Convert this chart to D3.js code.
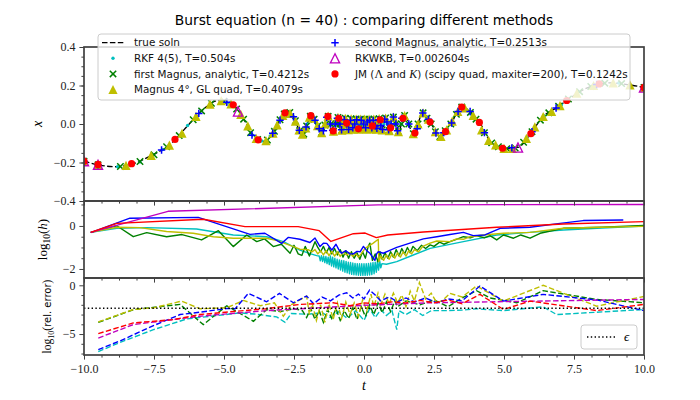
<!DOCTYPE html>
<meta charset="utf-8">
<style>
    body { margin: 0; background: #fff; }
    .tick text { font-family: "Liberation Serif", serif; font-size: 12px; fill: #222; }
    .tick line { stroke: #404040; }
    .leg text { font-family: "DejaVu Sans", sans-serif; font-size: 10.4px; fill: #111; }
</style>

<svg width="700" height="400"></svg>

<script src="https://cdn.jsdelivr.net/npm/d3@7"></script>

<script>
    // true solution: [t, x]
    var trueSoln = [[-10,-0.193],[-9.5,-0.212],[-8.9,-0.222],[-8.25,-0.207],[-7.64,-0.167],[-6.93,-0.107],[-6.21,0.005],
        [-5.62,0.091],[-5.21,0.122],[-4.68,0.1],[-4.25,0.013],[-3.96,-0.064],[-3.6,-0.09],[-3.24,-0.045],[-2.93,0.04],
        [-2.75,0.063],[-2.53,0.04],[-2.29,-0.038],[-2.18,-0.055],[-2.03,0.0],[-1.87,0.045],[-1.69,0.0],[-1.51,-0.045],
        [-1.28,0.041],[-1.09,-0.037],[-0.93,0.034],[-0.79,-0.032],[-0.67,0.03],[-0.56,-0.029],[-0.46,0.027],[-0.37,-0.027],
        [-0.28,0.026],[-0.2,-0.026],[-0.12,0.025],[-0.045,-0.025],[0.025,0.025],[0.1,-0.025],[0.18,0.025],[0.26,-0.026],
        [0.35,0.026],[0.44,-0.027],[0.54,0.028],[0.65,-0.03],[0.77,0.031],[0.9,-0.034],[1.05,0.036],[1.23,-0.04],
        [1.45,0.044],[1.76,-0.05],[2.11,0.058],[2.4,0.0],[2.71,-0.066],[3.1,0.0],[3.49,0.088],[4.14,0.005],[4.56,-0.098],
        [5.1,-0.128],[5.5,-0.122],[5.93,-0.055],[6.4,0.039],[6.88,0.085],[7.24,0.122],[7.95,0.186],[8.8,0.214],[9.4,0.205],[10,0.19]];

    // step points of each method on the solution: [t, x]
    var rkfPts = [[-10,-0.193],[-9.5,-0.212],[-8.8,-0.222],[-8.0,-0.197],[-7.2,-0.133],[-6.3,-0.008],[-5.5,0.103],[-4.8,0.108],
        [-4.35,0.035],[-4.0,-0.055],[-3.65,-0.088],[-3.35,-0.062],[-3.1,-0.005],[-2.9,0.045],[-2.7,0.06],[-2.52,0.038],
        [-2.4,0.0],[-2.3,-0.036],[-2.2,-0.053],[-2.1,-0.03],[-2.03,0.0],[-1.95,0.03],[-1.87,0.045],[-1.78,0.028],[-1.69,0.0],
        [-1.6,-0.03],[-1.51,-0.045],[-1.45,-0.03],[-1.39,0.0],[-1.33,0.03],[-1.28,0.041],[-1.22,0.03],[-1.18,0.0],
        [-1.13,-0.028],[-1.09,-0.037],[-1.01,0.0],[-0.93,0.034],[-0.86,0.0],[-0.79,-0.032],[-0.73,0.0],[-0.67,0.03],
        [-0.615,0.0],[-0.56,-0.029],[-0.51,0.0],[-0.46,0.027],[-0.415,0.0],[-0.37,-0.027],[-0.325,0.0],[-0.28,0.026],
        [-0.24,0.0],[-0.2,-0.026],[-0.16,0.0],[-0.12,0.025],[-0.083,0.0],[-0.045,-0.025],[-0.01,0.0],[0.025,0.025],
        [0.062,0.0],[0.1,-0.025],[0.14,0.0],[0.18,0.025],[0.22,0.0],[0.26,-0.026],[0.305,0.0],[0.35,0.026],[0.395,0.0],
        [0.44,-0.027],[0.49,0.0],[0.54,0.028],[0.595,0.0],[0.65,-0.03],[0.71,0.0],[0.77,0.031],[0.835,0.0],[0.9,-0.034],
        [0.975,0.0],[1.05,0.036],[1.14,0.0],[1.23,-0.04],[1.34,0.0],[1.45,0.044],[1.6,0.0],[1.76,-0.05],[1.93,0.0],
        [2.11,0.058],[2.25,0.035],[2.4,0.0],[2.55,-0.04],[2.71,-0.066],[2.9,-0.035],[3.1,0.0],[3.3,0.05],[3.49,0.088],
        [3.85,0.05],[4.25,-0.035],[4.7,-0.11],[5.28,-0.125],[5.9,-0.06],[6.44,0.042],[7.05,0.1],[7.64,0.163],[8.3,0.203],
        [9.1,0.213],[10,0.19]];
    var magnus1Pts = [[-10,-0.193],[-9.5,-0.212],[-8.7,-0.221],[-8.0,-0.195],[-7.5,-0.16],[-7.05,-0.118],[-6.6,-0.06],
        [-6.1,0.022],[-5.8,0.068],[-5.45,0.108],[-5.0,0.118],[-4.55,0.078],[-4.3,0.025],[-4.05,-0.045],[-3.8,-0.08],
        [-3.45,-0.083],[-3.2,-0.038],[-3.0,0.022],[-2.85,0.052],[-2.65,0.06],[-2.45,0.017],[-2.3,-0.035],[-2.15,-0.053],
        [-2.05,-0.01],[-1.92,0.04],[-1.78,0.025],[-1.65,-0.01],[-1.52,-0.044],[-1.4,-0.005],[-1.28,0.04],[-1.18,0.0],
        [-1.09,-0.037],[-1.0,0.0],[-0.93,0.034],[-0.86,0.0],[-0.79,-0.032],[-0.67,0.03],[-0.56,-0.029],[-0.46,0.027],
        [-0.37,-0.027],[-0.28,0.026],[-0.2,-0.026],[-0.12,0.025],[-0.045,-0.025],[0.025,0.025],[0.1,-0.025],[0.18,0.025],
        [0.26,-0.026],[0.35,0.026],[0.44,-0.027],[0.54,0.028],[0.65,-0.03],[0.77,0.031],[0.9,-0.034],[1.05,0.036],
        [1.14,0.0],[1.23,-0.04],[1.34,0.0],[1.45,0.044],[1.6,0.0],[1.76,-0.05],[1.93,0.0],[2.11,0.058],[2.25,0.03],
        [2.4,0.0],[2.55,-0.04],[2.71,-0.066],[2.9,-0.035],[3.1,0.0],[3.3,0.05],[3.49,0.088],[3.8,0.06],[4.0,0.025],
        [4.3,-0.045],[4.56,-0.098],[4.8,-0.118],[5.1,-0.128],[5.4,-0.125],[5.7,-0.095],[6.0,-0.04],[6.3,0.02],[6.6,0.058],
        [6.95,0.092],[7.3,0.13],[7.7,0.168],[8.1,0.195],[8.6,0.212],[9.2,0.21],[10,0.19]];
    var magnus4Pts = [[-10,-0.193],[-9.5,-0.212],[-8.5,-0.215],[-7.6,-0.163],[-6.95,-0.11],[-6.5,-0.048],[-6.0,0.04],
        [-5.5,0.103],[-5.1,0.121],[-4.75,0.105],[-4.4,0.05],[-4.15,-0.01],[-3.85,-0.075],[-3.5,-0.087],[-3.25,-0.047],
        [-3.1,-0.005],[-2.9,0.045],[-2.64,0.055],[-2.45,0.015],[-2.32,-0.03],[-2.2,-0.053],[-2.08,-0.02],[-1.95,0.035],
        [-1.8,0.03],[-1.66,-0.008],[-1.51,-0.045],[-1.39,0.0],[-1.28,0.041],[-1.09,-0.037],[-0.93,0.034],[-0.79,-0.032],
        [-0.73,0.0],[-0.67,0.03],[-0.56,-0.029],[-0.46,0.027],[-0.41,0.0],[-0.37,-0.027],[-0.28,0.026],[-0.2,-0.026],
        [-0.12,0.025],[-0.045,-0.025],[0.025,0.025],[0.1,-0.025],[0.14,0.0],[0.18,0.025],[0.26,-0.026],[0.35,0.026],
        [0.44,-0.027],[0.49,0.0],[0.54,0.028],[0.65,-0.03],[0.77,0.031],[0.9,-0.034],[1.05,0.036],[1.23,-0.04],
        [1.45,0.044],[1.76,-0.05],[1.93,0.0],[2.11,0.058],[2.3,0.025],[2.55,-0.04],[2.75,-0.065],[2.95,-0.03],[3.15,0.015],
        [3.35,0.065],[3.6,0.083],[3.9,0.045],[4.2,-0.03],[4.45,-0.085],[4.7,-0.108],[5.0,-0.127],[5.3,-0.127],[5.8,-0.075],
        [6.1,-0.015],[6.4,0.039],[6.7,0.066],[7.0,0.095],[7.6,0.16],[8.2,0.2],[8.9,0.214],[9.5,0.203],[10,0.19]];
    var magnus2Pts = [[-10,-0.193],[-9.5,-0.212],[-7.23,-0.135],[-5.9,0.055],[-4.9,0.113],[-4.0,-0.058],[-3.26,-0.048],
        [-3.0,0.02],[-2.52,0.038],[-2.31,-0.033],[-2.07,-0.015],[-1.75,0.02],[-1.6,-0.025],[-1.45,-0.035],[-1.33,0.035],
        [-1.2,0.0],[-1.12,-0.033],[-1.02,0.0],[-0.95,0.03],[-0.86,0.0],[-0.8,-0.03],[-0.7,0.022],[-0.62,0.0],[-0.55,-0.028],
        [-0.48,0.02],[-0.4,-0.02],[-0.33,0.0],[-0.26,0.022],[-0.18,-0.02],[-0.1,0.02],[-0.02,0.0],[0.06,-0.02],[0.12,0.01],
        [0.2,0.02],[0.28,-0.02],[0.33,0.018],[0.4,-0.01],[0.46,-0.022],[0.52,0.022],[0.6,-0.008],[0.66,-0.028],[0.74,0.025],
        [0.82,0.01],[0.88,-0.03],[0.97,0.0],[1.05,0.036],[1.14,0.0],[1.2,-0.035],[1.35,0.03],[1.6,0.0],[1.9,-0.025],
        [2.1,0.057],[2.3,0.025],[2.57,-0.047],[2.85,-0.045],[3.13,0.005],[3.36,0.065],[3.79,0.065],[4.3,-0.045],
        [5.28,-0.124],[6.0,-0.04],[6.86,0.083],[8.31,0.205],[10,0.19]];
    var rkwkbPts = [[-10,-0.193],[-9.5,-0.212],[-4.5,0.065],[5.5,-0.122],[10,0.19]];
    var jmPts = [[-10,-0.193],[-9.5,-0.21],[-8.3,-0.206],[-6.75,-0.08],[-4.67,0.1],[-3.78,-0.082],[-2.82,0.058],
        [-1.9,0.043],[-1.29,0.04],[-1.1,-0.036],[-0.9,0.03],[-0.62,0.005],[-0.2,-0.025],[0.3,-0.01],[0.58,0.022],
        [0.95,-0.02],[1.39,0.03],[1.82,-0.047],[2.36,0.01],[2.91,-0.04],[3.49,0.088],[4.12,0.008],[4.95,-0.126],
        [5.96,-0.05],[7.24,0.122],[8.4,0.208],[10,0.19]];

    // log10 of step size h: [t, log10 h]
    var hRkf = [[-9.76,-0.3],[-8.83,-0.11],[-7.76,-0.08],[-5.98,-0.14],[-4.67,-0.42],[-3.48,-0.5],[-2.88,-0.73],
        [-2.29,-1.12],[-1.9,-1.3],[-1.69,-1.38],[-1.6,-1.4],[-1.56,-1.62],[-1.52,-1.38],[-1.48,-1.65],[-1.44,-1.4],
        [-1.4,-1.7],[-1.36,-1.42],[-1.32,-1.75],[-1.28,-1.45],[-1.24,-1.8],[-1.2,-1.4],[-1.16,-1.86],[-1.12,-1.45],
        [-1.08,-1.9],[-1.04,-1.5],[-1.0,-1.95],[-0.96,-1.55],[-0.92,-2.0],[-0.88,-1.58],[-0.84,-2.05],[-0.8,-1.6],
        [-0.76,-2.1],[-0.72,-1.62],[-0.68,-2.15],[-0.64,-1.65],[-0.6,-2.18],[-0.56,-1.68],[-0.52,-2.22],[-0.48,-1.7],
        [-0.44,-2.25],[-0.4,-1.72],[-0.36,-2.27],[-0.32,-1.74],[-0.28,-2.28],[-0.24,-1.75],[-0.2,-2.29],[-0.16,-1.76],
        [-0.12,-2.3],[-0.08,-1.76],[-0.04,-2.3],[0.0,-1.76],[0.04,-2.3],[0.08,-1.75],[0.12,-2.29],[0.16,-1.74],
        [0.2,-2.28],[0.24,-1.72],[0.28,-2.26],[0.32,-1.7],[0.36,-2.22],[0.4,-1.68],[0.44,-2.15],[0.48,-1.65],[0.52,-2.05],
        [0.56,-1.62],[0.6,-1.95],[0.64,-1.75],[0.8,-1.78],[1.17,-1.66],[1.76,-1.35],[2.36,-1.04],[3.55,-0.73],
        [4.74,-0.42],[5.9,-0.3],[7.12,-0.19],[8.5,-0.1],[10,0.0]];
    var hMagnus1 = [[-9.76,-0.3],[-8.83,0.01],[-8.24,-0.5],[-7.76,-0.31],[-7.05,-0.5],[-6.5,-0.4],[-5.8,-0.65],
        [-5.2,-0.22],[-4.67,-0.96],[-4.19,-0.42],[-3.83,-0.73],[-3.55,-0.6],[-3.24,-0.96],[-2.95,-0.85],[-2.64,-1.27],
        [-2.5,-0.9],[-2.35,-1.3],[-2.22,-1.37],[-2.1,-0.95],[-1.95,-1.4],[-1.75,-0.73],[-1.65,-1.0],[-1.55,-1.2],
        [-1.45,-0.95],[-1.35,-1.25],[-1.25,-1.0],[-1.15,-1.3],[-1.05,-1.05],[-0.95,-1.35],[-0.85,-1.1],[-0.75,-1.45],
        [-0.65,-1.15],[-0.55,-1.5],[-0.45,-1.2],[-0.35,-1.5],[-0.25,-1.25],[-0.15,-1.55],[-0.05,-1.2],[0.05,-1.5],
        [0.15,-0.95],[0.21,-0.8],[0.3,-1.6],[0.4,-1.3],[0.5,-1.66],[0.57,-1.2],[0.65,-1.55],[0.75,-1.25],[0.85,-1.5],
        [0.95,-1.2],[1.05,-1.45],[1.15,-1.1],[1.25,-1.4],[1.35,-1.05],[1.45,-1.3],[1.55,-1.0],[1.65,-1.25],[1.75,-0.95],
        [1.9,-1.15],[2.05,-0.9],[2.2,-1.05],[2.36,-0.88],[2.5,-0.95],[2.7,-0.75],[2.85,-0.85],[3.07,-0.73],[3.3,-0.62],
        [3.55,-0.5],[3.8,-0.55],[4.0,-0.45],[4.3,-0.55],[4.5,-0.45],[4.74,-0.65],[4.98,-0.42],[5.34,-0.57],[5.6,-0.42],
        [5.93,-0.57],[6.29,-0.34],[7.12,-0.11],[8.5,-0.06],[10,0.02]];
    var hMagnus4 = [[-9.76,-0.3],[-8.83,-0.06],[-8.0,-0.08],[-7.05,-0.26],[-6.1,-0.34],[-5.38,-0.5],[-4.67,-0.57],
        [-3.48,-0.57],[-3.1,-0.68],[-2.52,-0.96],[-2.29,-1.08],[-2.0,-1.1],[-1.85,-1.2],[-1.75,-1.1],[-1.65,-1.3],
        [-1.55,-1.15],[-1.45,-1.35],[-1.35,-1.15],[-1.25,-1.38],[-1.15,-1.18],[-1.05,-1.4],[-0.95,-1.2],[-0.85,-1.42],
        [-0.75,-1.22],[-0.62,-1.35],[-0.5,-1.25],[-0.4,-1.42],[-0.3,-1.28],[-0.2,-1.45],[-0.1,-1.3],[0.04,-1.04],
        [0.33,-0.8],[0.51,-0.62],[0.53,-1.66],[0.6,-1.4],[0.7,-1.6],[0.8,-1.35],[0.9,-1.55],[1.0,-1.3],[1.1,-1.5],
        [1.2,-1.25],[1.3,-1.45],[1.4,-1.2],[1.5,-1.4],[1.6,-1.15],[1.7,-1.3],[1.8,-1.1],[1.95,-1.2],[2.1,-0.95],
        [2.36,-0.8],[2.6,-0.7],[3.07,-0.73],[3.3,-0.6],[3.55,-0.62],[3.79,-0.5],[4.27,-0.42],[4.98,-0.34],[5.93,-0.3],
        [7.12,-0.11],[8.5,-0.06],[10,-0.02]];
    var hMagnus2 = [[-9.76,-0.31],[-8.36,0.36],[-5.92,0.4],[-4.07,-0.39],[-3.54,-0.34],[-2.94,-0.81],[-2.7,-0.53],
        [-2.29,-0.62],[-1.93,-0.77],[-1.75,-0.56],[-1.57,-0.96],[-1.45,-0.8],[-1.33,-0.81],[-1.15,-1.12],[-1.0,-0.85],
        [-0.9,-1.1],[-0.8,-1.27],[-0.65,-1.15],[-0.5,-1.3],[-0.38,-1.3],[-0.25,-1.18],[-0.14,-1.2],[-0.02,-0.95],
        [0.1,-1.15],[0.21,-1.27],[0.33,-1.5],[0.39,-1.6],[0.45,-1.3],[0.51,-1.2],[0.69,-1.27],[0.9,-1.15],[1.17,-1.0],
        [1.64,-0.8],[2.12,-0.6],[2.6,-0.5],[3.07,-0.4],[3.55,-0.3],[3.9,-0.45],[4.32,-0.42],[4.86,-0.11],[5.93,-0.06],
        [7.0,0.12],[7.83,0.25],[9.26,0.28]];
    var hRkwkb = [[-9.76,-0.3],[-7.0,0.68],[0.5,0.98],[10,1.0]];
    var hJm = [[-9.76,-0.3],[-8.83,0.12],[-5.74,0.31],[-4.25,-0.03],[-2.35,-0.03],[-1.6,-0.22],[-1.18,-0.72],
        [-0.38,-0.36],[0.04,-0.33],[0.44,-0.54],[0.85,-0.42],[2.12,-0.28],[3.1,-0.2],[4.74,-0.06],[7.12,0.09],[10,0.2]];

    // log10 of relative error: [t, log10 err]
    var eRkf = [[-9.49,-6.8],[-8.71,-5.86],[-7.52,-4.55],[-6.33,-3.45],[-4.43,-2.83],[-3.9,-2.95],[-3.12,-3.24],
        [-2.82,-3.8],[-2.6,-2.9],[-2.0,-2.97],[-1.5,-2.8],[-1.2,-3.3],[-0.9,-2.7],[-0.6,-3.4],[-0.3,-2.6],[0.0,-3.6],
        [0.2,-2.4],[0.4,-3.3],[0.6,-2.5],[0.8,-3.1],[1.0,-2.6],[1.17,-4.55],[1.25,-2.6],[1.5,-3.0],[1.8,-2.5],[2.1,-3.1],
        [2.4,-2.6],[2.95,-2.6],[3.5,-2.55],[4.02,-2.41],[4.98,-2.59],[6.4,-2.2],[6.88,-3.0],[8.31,-2.76],[10,-2.48]];
    var eMagnus1 = [[-9.49,-3.8],[-8.24,-2.5],[-6.57,-1.96],[-5.74,-4.03],[-4.9,-2.1],[-3.95,-3.69],[-3.48,-2.5],
        [-3.0,-2.7],[-2.5,-2.4],[-2.2,-2.6],[-2.05,-3.3],[-1.9,-2.4],[-1.75,-3.5],[-1.6,-2.6],[-1.45,-3.8],[-1.3,-2.5],
        [-1.15,-3.4],[-1.0,-2.4],[-0.85,-3.6],[-0.7,-2.6],[-0.55,-3.4],[-0.4,-2.3],[-0.25,-3.5],[-0.1,-2.2],[0.05,-3.2],
        [0.2,-2.0],[0.35,-3.0],[0.5,-1.8],[0.65,-2.8],[0.8,-1.7],[0.95,-2.7],[1.1,-1.6],[1.2,-2.2],[1.5,-1.6],[2.0,-2.0],
        [2.5,-1.5],[3.0,-2.2],[3.5,-1.3],[4.02,-0.55],[4.5,-1.3],[5.46,-1.79],[6.4,-0.55],[8.31,-1.45],[10,-1.79]];
    var eMagnus4 = [[-9.49,-3.76],[-8.24,-2.48],[-7.5,-2.3],[-6.51,-1.62],[-5.86,-2.41],[-4.9,-2.3],[-4.31,-1.55],
        [-3.7,-2.1],[-3.2,-1.8],[-2.88,-3.17],[-2.6,-2.0],[-2.05,-1.1],[-1.95,-3.0],[-1.85,-1.9],[-1.7,-3.6],[-1.55,-2.0],
        [-1.4,-3.8],[-1.25,-1.9],[-1.1,-3.5],[-0.95,-1.8],[-0.8,-3.4],[-0.65,-1.7],[-0.5,-3.0],[-0.35,-1.8],[-0.2,-3.2],
        [-0.05,-1.5],[0.1,-2.6],[0.25,-0.9],[0.35,-2.2],[0.5,-0.8],[0.6,-2.0],[0.75,-0.9],[0.9,-1.9],[1.05,-0.8],
        [1.2,-1.8],[1.35,-1.0],[1.5,-2.2],[1.65,-0.6],[1.8,-1.6],[1.98,0.28],[2.2,-1.4],[2.4,-0.8],[2.6,-1.8],[2.83,-1.5],
        [3.07,-0.83],[3.5,-1.2],[4.02,-0.07],[4.98,-1.62],[6.4,0.0],[8.31,-2.14],[10,-1.14]];
    var eMagnus2 = [[-9.49,-6.6],[-8.71,-5.7],[-7.52,-4.14],[-6.57,-3.0],[-5.86,-2.76],[-4.9,-2.38],[-4.6,-2.4],
        [-4.13,-0.83],[-3.48,-1.69],[-3.02,-0.83],[-2.52,-1.79],[-2.05,-1.1],[-1.8,-1.9],[-1.5,-1.2],[-1.2,-1.6],
        [-0.9,-1.0],[-0.62,-0.76],[-0.4,-1.3],[-0.2,-0.9],[0.0,-1.4],[0.2,-0.5],[0.4,-1.0],[0.6,-1.6],[0.9,-1.2],
        [1.2,-1.7],[1.5,-1.3],[1.8,-1.7],[2.2,-1.3],[2.6,-1.8],[3.0,-1.4],[3.5,-1.6],[4.14,-0.07],[4.98,-1.62],
        [6.4,-0.93],[8.31,-1.5],[10,-2.59]];
    var eRkwkb = [[-9.49,-5.41],[-8.24,-4.03],[-5.86,-3.17],[-3.5,-2.6],[0,-2.05],[2.36,-1.79],[4.5,-1.7],[10,-1.45]];
    var eJm = [[-9.49,-4.96],[-8.24,-3.86],[-6.81,-3.52],[-5.86,-3.0],[-4.67,-2.69],[-3.5,-2.4],[-2.29,-1.96],
        [-1.1,-1.79],[-0.5,-2.1],[0.0,-1.8],[0.5,-1.9],[1.0,-1.7],[1.5,-1.8],[2.0,-1.55],[2.5,-1.8],[3.0,-1.5],[3.5,-1.9],
        [4.14,-0.93],[4.98,-2.48],[5.93,-1.62],[8.31,-2.59],[10,-1.96]];
    var epsLog = -2.35;

    var methodNames = ["RKF 4(5), T=0.504s", "first Magnus, analytic, T=0.4212s", "Magnus 4°, GL quad, T=0.4079s",
        "second Magnus, analytic, T=0.2513s", "RKWKB, T=0.002604s", "JM (Λ and K) (scipy quad, maxiter=200), T=0.1242s"];
    var methodColors = ["#00bfbf", "#008000", "#bfbf00", "#0000ff", "#bf00bf", "#ff0000"];
    var methodMarkers = ["dot", "x", "tri", "plus", "opentri", "circle"];

    var xTicks = [-10, -7.5, -5, -2.5, 0, 2.5, 5, 7.5, 10];
    var topTicks = [-0.4, -0.2, 0, 0.2, 0.4];
    var midTicks = [-2, 0];
    var botTicks = [-5, 0];

    (function () {
        var svg = d3.select("svg"),
            left = 84, right = 644,
            x = d3.scaleLinear().domain([-10, 10]).range([left, right]),
            yTop = d3.scaleLinear().domain([-0.4, 0.4]).range([201, 47]),
            yMid = d3.scaleLinear().domain([-2.42, 1.16]).range([278, 201]),
            yBot = d3.scaleLinear().domain([-7.15, 0.75]).range([355, 278]),
            pts = [rkfPts, magnus1Pts, magnus4Pts, magnus2Pts, rkwkbPts, jmPts],
            hs = [hRkf, hMagnus1, hMagnus4, hMagnus2, hRkwkb, hJm],
            errs = [eRkf, eMagnus1, eMagnus4, eMagnus2, eRkwkb, eJm];

        // clip each panel
        var defs = svg.append("defs");
        [["cTop", yTop], ["cMid", yMid], ["cBot", yBot]].forEach(function (c) {
            var r = c[1].range();
            defs.append("clipPath").attr("id", c[0]).append("rect")
                .attr("x", left).attr("y", r[1]).attr("width", right - left).attr("height", r[0] - r[1]);
        });

        function marker(g, kind, color, cx, cy) {
            if (kind === "dot") {
                g.append("circle").attr("cx", cx).attr("cy", cy).attr("r", 1.7).attr("fill", color);
            } else if (kind === "circle") {
                g.append("circle").attr("cx", cx).attr("cy", cy).attr("r", 3.6).attr("fill", color);
            } else if (kind === "x") {
                var s = 3.2;
                g.append("path").attr("d", "M" + (cx - s) + "," + (cy - s) + "L" + (cx + s) + "," + (cy + s) +
                    "M" + (cx - s) + "," + (cy + s) + "L" + (cx + s) + "," + (cy - s))
                    .attr("stroke", color).attr("stroke-width", 1.5).attr("fill", "none");
            } else if (kind === "plus") {
                var p = 3.7;
                g.append("path").attr("d", "M" + (cx - p) + "," + cy + "L" + (cx + p) + "," + cy +
                    "M" + cx + "," + (cy - p) + "L" + cx + "," + (cy + p))
                    .attr("stroke", color).attr("stroke-width", 1.5).attr("fill", "none");
            } else {
                var t = 4.6;
                var path = g.append("path").attr("d", "M" + cx + "," + (cy - t) + "L" + (cx - t) + "," + (cy + t) +
                    "L" + (cx + t) + "," + (cy + t) + "Z");
                if (kind === "tri") path.attr("fill", color);
                else path.attr("fill", "none").attr("stroke", color).attr("stroke-width", 1.3);
            }
        }

        // top panel: solution and method steps
        var gTop = svg.append("g").attr("clip-path", "url(#cTop)");
        gTop.append("path")
            .datum(trueSoln)
            .attr("d", d3.line().x(function (d) { return x(d[0]); }).y(function (d) { return yTop(d[1]); })
                .curve(d3.curveMonotoneX))
            .attr("fill", "none").attr("stroke", "#000").attr("stroke-width", 1.3)
            .attr("stroke-dasharray", "5.5,2.4");
        pts.forEach(function (arr, i) {
            var g = gTop.append("g");
            arr.forEach(function (d) {
                marker(g, methodMarkers[i], methodColors[i], x(d[0]), yTop(d[1]));
            });
        });

        // middle panel: step sizes
        var gMid = svg.append("g").attr("clip-path", "url(#cMid)");
        hs.forEach(function (arr, i) {
            gMid.append("path").datum(arr)
                .attr("d", d3.line().x(function (d) { return x(d[0]); }).y(function (d) { return yMid(d[1]); }))
                .attr("fill", "none").attr("stroke", methodColors[i]).attr("stroke-width", 1.4)
                .attr("stroke-linejoin", "round");
        });

        // bottom panel: relative errors
        var gBot = svg.append("g").attr("clip-path", "url(#cBot)");
        errs.forEach(function (arr, i) {
            gBot.append("path").datum(arr)
                .attr("d", d3.line().x(function (d) { return x(d[0]); }).y(function (d) { return yBot(d[1]); }))
                .attr("fill", "none").attr("stroke", methodColors[i]).attr("stroke-width", 1.4)
                .attr("stroke-dasharray", "5.5,2.4");
        });
        gBot.append("line")
            .attr("x1", left).attr("x2", right).attr("y1", yBot(epsLog)).attr("y2", yBot(epsLog))
            .attr("stroke", "#000").attr("stroke-width", 1.4).attr("stroke-dasharray", "1.4,2.4");

        // axes: outward ticks, bottom and left
        var xMinor = d3.range(-10, 10.001, 0.625).filter(function (v) { return xTicks.indexOf(v) < 0; });
        [[yTop, topTicks, d3.format(".1f"), d3.range(-0.4, 0.401, 0.05)],
         [yMid, midTicks, d3.format("d"), [-1.5, -1, -0.5, 0.5, 1]],
         [yBot, botTicks, d3.format("d"), [-7, -6, -4, -3, -2, -1]]].forEach(function (p, k) {
            var y = p[0], bottom = y.range()[0];
            svg.append("g").attr("transform", "translate(0," + bottom + ")")
                .call(d3.axisBottom(x).tickValues(xMinor).tickSize(2.6).tickFormat(""))
                .call(function (g) { g.select(".domain").remove(); });
            svg.append("g").attr("transform", "translate(0," + bottom + ")")
                .call(d3.axisBottom(x).tickValues(xTicks).tickSize(4.6).tickPadding(5)
                    .tickFormat(k === 2 ? d3.format(".1f") : ""))
                .call(function (g) { g.select(".domain").remove(); });
            svg.append("g").attr("transform", "translate(" + left + ",0)")
                .call(d3.axisLeft(y).tickValues(p[3]).tickSize(2.6).tickFormat(""))
                .call(function (g) { g.select(".domain").remove(); });
            svg.append("g").attr("transform", "translate(" + left + ",0)")
                .call(d3.axisLeft(y).tickValues(p[1]).tickSize(4.6).tickPadding(4).tickFormat(p[2]))
                .call(function (g) { g.select(".domain").remove(); });
            var r = y.range();
            svg.append("rect").attr("x", left).attr("y", r[1]).attr("width", right - left).attr("height", r[0] - r[1])
                .attr("fill", "none").attr("stroke", "#404040").attr("stroke-width", 1.7);
        });

        // labels
        svg.append("text").attr("x", 364).attr("y", 25).attr("text-anchor", "middle")
            .style("font-family", "DejaVu Sans, sans-serif").style("font-size", "13.8px")
            .text("Burst equation (n = 40) : comparing different methods");
        svg.append("text").attr("x", 364).attr("y", 390).attr("text-anchor", "middle")
            .style("font-family", "Liberation Serif, serif").style("font-size", "14px").style("font-style", "italic")
            .text("t");
        svg.append("text").attr("transform", "translate(42,124) rotate(-90)").attr("text-anchor", "middle")
            .style("font-family", "Liberation Serif, serif").style("font-size", "14px").style("font-style", "italic")
            .text("x");
        var lh = svg.append("text").attr("transform", "translate(47,239.5) rotate(-90)").attr("text-anchor", "middle")
            .style("font-family", "Liberation Serif, serif").style("font-size", "13px");
        lh.append("tspan").text("log");
        lh.append("tspan").attr("dy", 3).style("font-size", "9.5px").text("10");
        lh.append("tspan").attr("dy", -3).text("(");
        lh.append("tspan").style("font-style", "italic").text("h");
        lh.append("tspan").text(")");
        var le = svg.append("text").attr("transform", "translate(51,316.5) rotate(-90)").attr("text-anchor", "middle")
            .style("font-family", "Liberation Serif, serif").style("font-size", "11.5px");
        le.append("tspan").text("log");
        le.append("tspan").attr("dy", 2.5).style("font-size", "8px").text("10");
        le.append("tspan").attr("dy", -2.5).text("(");
        le.append("tspan").style("font-family", "DejaVu Sans, sans-serif").style("font-size", "10px").text("rel. error");
        le.append("tspan").text(")");

        // main legend
        var leg = svg.append("g").attr("class", "leg");
        leg.append("rect").attr("x", 98).attr("y", 34).attr("width", 532).attr("height", 66).attr("rx", 3)
            .attr("fill", "#fff").attr("fill-opacity", 0.8).attr("stroke", "#ccc");
        var rows = [42.7, 58.3, 73.9, 89.5];
        leg.append("line").attr("x1", 102).attr("x2", 124).attr("y1", rows[0]).attr("y2", rows[0])
            .attr("stroke", "#000").attr("stroke-width", 1.3).attr("stroke-dasharray", "5.5,2.4");
        leg.append("text").attr("x", 134).attr("y", rows[0]).attr("dy", "0.35em").text("true soln");
        methodNames.forEach(function (name, i) {
            var col = i < 3 ? 0 : 1,
                ry = col === 0 ? rows[i + 1] : rows[i - 3],
                mx = col === 0 ? 113 : 335,
                tx = col === 0 ? 134 : 355;
            marker(leg, methodMarkers[i], methodColors[i], mx, ry);
            var t = leg.append("text").attr("x", tx).attr("y", ry).attr("dy", "0.35em");
            if (i === 5) {
                t.append("tspan").text("JM (");
                t.append("tspan").style("font-family", "Liberation Serif, serif").style("font-size", "12px").text("Λ");
                t.append("tspan").text(" and ");
                t.append("tspan").style("font-family", "Liberation Serif, serif").style("font-size", "12px")
                    .style("font-style", "italic").text("K");
                t.append("tspan").text(") (scipy quad, maxiter=200), T=0.1242s");
            } else {
                t.text(name);
            }
        });

        // epsilon legend
        var el = svg.append("g");
        el.append("rect").attr("x", 581).attr("y", 325).attr("width", 56).attr("height", 24).attr("rx", 3)
            .attr("fill", "#fff").attr("fill-opacity", 0.8).attr("stroke", "#ccc");
        el.append("line").attr("x1", 587).attr("x2", 615).attr("y1", 337).attr("y2", 337)
            .attr("stroke", "#000").attr("stroke-width", 1.4).attr("stroke-dasharray", "1.4,2.4");
        el.append("text").attr("x", 624).attr("y", 341)
            .style("font-family", "Liberation Serif, serif").style("font-size", "13px").style("font-style", "italic")
            .text("ϵ");
    })();
</script>
